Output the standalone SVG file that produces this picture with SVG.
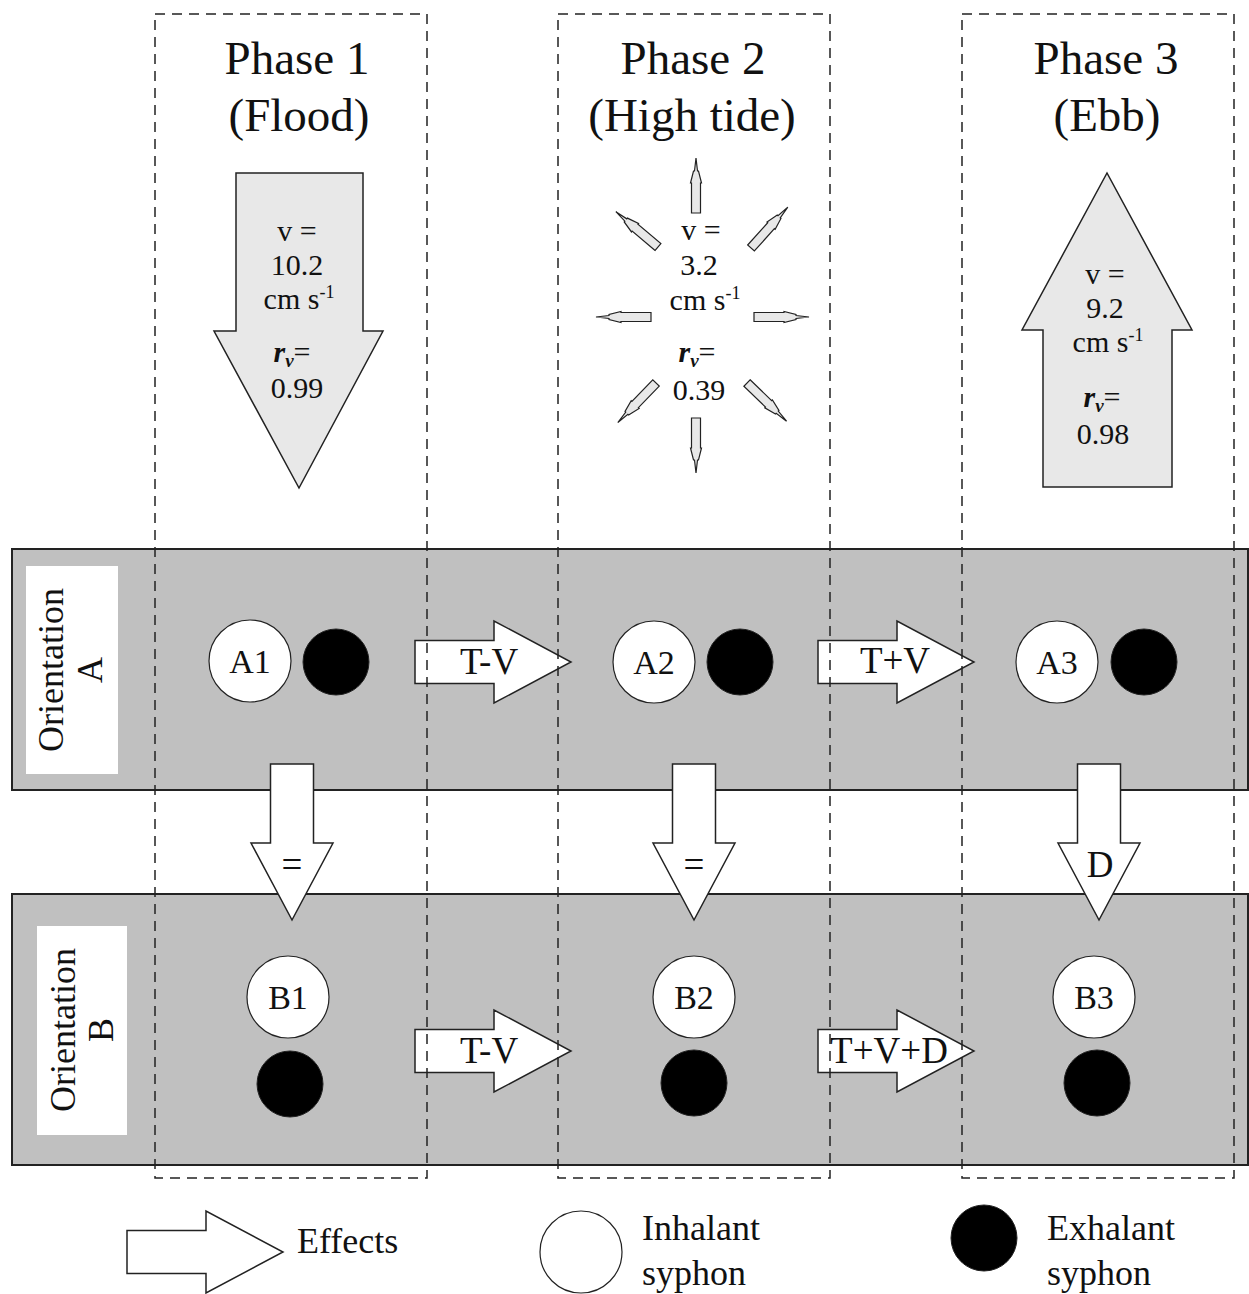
<svg xmlns="http://www.w3.org/2000/svg" width="1249" height="1294" viewBox="0 0 1249 1294">
<style>
  text { font-family: "Liberation Serif", "Times New Roman", serif; fill: #111; }
  .head { font-size: 47px; text-anchor: middle; }
  .val { font-size: 30px; text-anchor: middle; }
  .lbl { font-size: 34px; text-anchor: middle; }
  .eff { font-size: 37px; text-anchor: middle; }
  .orient { font-size: 36px; text-anchor: middle; }
  .leg { font-size: 36px; }
  .band { fill: #c0c0c0; stroke: #222; stroke-width: 2; }
  .phase { fill: none; stroke: #222; stroke-width: 1.5; stroke-dasharray: 10 7; }
  .big { fill: #e8e8e8; stroke: #222; stroke-width: 1.5; }
  .small { fill: #e8e8e8; stroke: #222; stroke-width: 1.2; }
  .effect { fill: #fff; stroke: #222; stroke-width: 1.5; }
  .inh { fill: #fff; stroke: #222; stroke-width: 1.2; }
  .exh { fill: #000; stroke: #222; stroke-width: 1; }
  .olab { fill: #fff; }
</style>
<defs>
  <path id="harrow" d="M0,-21.5 L79,-21.5 L79,-41 L156,0 L79,41 L79,21.5 L0,21.5 Z"/>
  <path id="sarrow" d="M0,-4.5 L30,-4.5 L30,-5.5 L42,-2.5 L42,-1.5 L55,0 L42,1.5 L42,2.5 L30,5.5 L30,4.5 L0,4.5 Z"/>
</defs>
<rect width="1249" height="1294" fill="#fff"/>

<!-- orientation bands -->
<g id="bandA">
  <rect class="band" x="12" y="549" width="1236" height="241"/>
  <rect class="olab" x="26" y="566" width="92" height="208"/>
  <text class="orient" transform="translate(63,670) rotate(-90)">Orientation</text>
  <text class="orient" transform="translate(102,670) rotate(-90)">A</text>
</g>
<g id="bandB">
  <rect class="band" x="12" y="894" width="1236" height="271"/>
  <rect class="olab" x="37" y="926" width="90" height="209"/>
  <text class="orient" transform="translate(75,1030) rotate(-90)">Orientation</text>
  <text class="orient" transform="translate(113,1030) rotate(-90)">B</text>
</g>

<!-- Phase headers and current arrows -->
<g id="phase1">
  <text class="head" x="297" y="74">Phase 1</text>
  <text class="head" x="299" y="131">(Flood)</text>
  <path class="big" d="M236,173 L363,173 L363,331 L383,331 L299,488 L214,331 L236,331 Z"/>
  <text class="val" x="297" y="241">v =</text>
  <text class="val" x="297" y="275">10.2</text>
  <text class="val" x="299" y="309">cm s<tspan font-size="18" dy="-11">-1</tspan></text>
  <text class="val" x="292" y="362"><tspan font-style="italic" font-weight="bold">r</tspan><tspan font-style="italic" font-weight="bold" font-size="19" dy="5">v</tspan><tspan dy="-5">=</tspan></text>
  <text class="val" x="297" y="398">0.99</text>
</g>
<g id="phase2">
  <text class="head" x="693" y="74">Phase 2</text>
  <text class="head" x="692" y="131">(High tide)</text>
  <use href="#sarrow" class="small" transform="translate(696,213) rotate(-90)"/>
  <use href="#sarrow" class="small" transform="translate(696,418) rotate(90)"/>
  <use href="#sarrow" class="small" transform="translate(651,317) rotate(180)"/>
  <use href="#sarrow" class="small" transform="translate(754,317)"/>
  <use href="#sarrow" class="small" transform="translate(658,247) rotate(220)"/>
  <use href="#sarrow" class="small" transform="translate(751,248) rotate(-48)"/>
  <use href="#sarrow" class="small" transform="translate(656,383) rotate(134)"/>
  <use href="#sarrow" class="small" transform="translate(747,383) rotate(44)"/>
  <text class="val" x="701" y="240">v =</text>
  <text class="val" x="699" y="275">3.2</text>
  <text class="val" x="705" y="310">cm s<tspan font-size="18" dy="-11">-1</tspan></text>
  <text class="val" x="697" y="362"><tspan font-style="italic" font-weight="bold">r</tspan><tspan font-style="italic" font-weight="bold" font-size="19" dy="5">v</tspan><tspan dy="-5">=</tspan></text>
  <text class="val" x="699" y="400">0.39</text>
</g>
<g id="phase3">
  <text class="head" x="1106" y="74">Phase 3</text>
  <text class="head" x="1107" y="131">(Ebb)</text>
  <path class="big" d="M1043,487 L1172,487 L1172,330 L1192,330 L1107,173 L1022,330 L1043,330 Z"/>
  <text class="val" x="1105" y="284">v =</text>
  <text class="val" x="1105" y="318">9.2</text>
  <text class="val" x="1108" y="352">cm s<tspan font-size="18" dy="-11">-1</tspan></text>
  <text class="val" x="1102" y="407"><tspan font-style="italic" font-weight="bold">r</tspan><tspan font-style="italic" font-weight="bold" font-size="19" dy="5">v</tspan><tspan dy="-5">=</tspan></text>
  <text class="val" x="1103" y="444">0.98</text>
</g>

<!-- nodes -->
<g id="A1">
  <circle class="inh" cx="250" cy="661" r="41"/>
  <text class="lbl" x="250" y="673">A1</text>
  <circle class="exh" cx="336" cy="662" r="33"/>
</g>
<g id="A2">
  <circle class="inh" cx="654" cy="662" r="41"/>
  <text class="lbl" x="654" y="674">A2</text>
  <circle class="exh" cx="740" cy="662" r="33"/>
</g>
<g id="A3">
  <circle class="inh" cx="1057" cy="662" r="41"/>
  <text class="lbl" x="1057" y="674">A3</text>
  <circle class="exh" cx="1144" cy="662" r="33"/>
</g>
<g id="B1">
  <circle class="inh" cx="288" cy="997" r="41"/>
  <text class="lbl" x="288" y="1009">B1</text>
  <circle class="exh" cx="290" cy="1084" r="33"/>
</g>
<g id="B2">
  <circle class="inh" cx="694" cy="997" r="41"/>
  <text class="lbl" x="694" y="1009">B2</text>
  <circle class="exh" cx="694" cy="1083" r="33"/>
</g>
<g id="B3">
  <circle class="inh" cx="1094" cy="997" r="41"/>
  <text class="lbl" x="1094" y="1009">B3</text>
  <circle class="exh" cx="1097" cy="1083" r="33"/>
</g>

<!-- connectors (effects) -->
<g id="connectors">
  <use href="#harrow" class="effect" transform="translate(415,662)"/>
  <text class="eff" x="489" y="674">T-V</text>
  <use href="#harrow" class="effect" transform="translate(818,662)"/>
  <text class="eff" x="895" y="673">T+V</text>
  <use href="#harrow" class="effect" transform="translate(415,1051)"/>
  <text class="eff" x="489" y="1063">T-V</text>
  <use href="#harrow" class="effect" transform="translate(818,1051)"/>
  <text class="eff" x="889" y="1063">T+V+D</text>
  <use href="#harrow" class="effect" transform="translate(292,764) rotate(90)"/>
  <text class="eff" x="292" y="877">=</text>
  <use href="#harrow" class="effect" transform="translate(694,764) rotate(90)"/>
  <text class="eff" x="694" y="877">=</text>
  <use href="#harrow" class="effect" transform="translate(1099,764) rotate(90)"/>
  <text class="eff" x="1100" y="877">D</text>
</g>

<!-- phase dashed boxes -->
<g id="phaseBoxes">
  <rect class="phase" x="155" y="14" width="272" height="1164"/>
  <rect class="phase" x="558" y="14" width="272" height="1164"/>
  <rect class="phase" x="962" y="14" width="272" height="1164"/>
</g>

<!-- legend -->
<g id="legend">
  <use href="#harrow" class="effect" transform="translate(127,1252)"/>
  <text class="leg" x="297" y="1253">Effects</text>
  <circle class="inh" cx="581" cy="1252" r="41"/>
  <text class="leg" x="642" y="1240">Inhalant</text>
  <text class="leg" x="642" y="1285">syphon</text>
  <circle class="exh" cx="984" cy="1238" r="33"/>
  <text class="leg" x="1047" y="1240">Exhalant</text>
  <text class="leg" x="1047" y="1285">syphon</text>
</g>
</svg>
